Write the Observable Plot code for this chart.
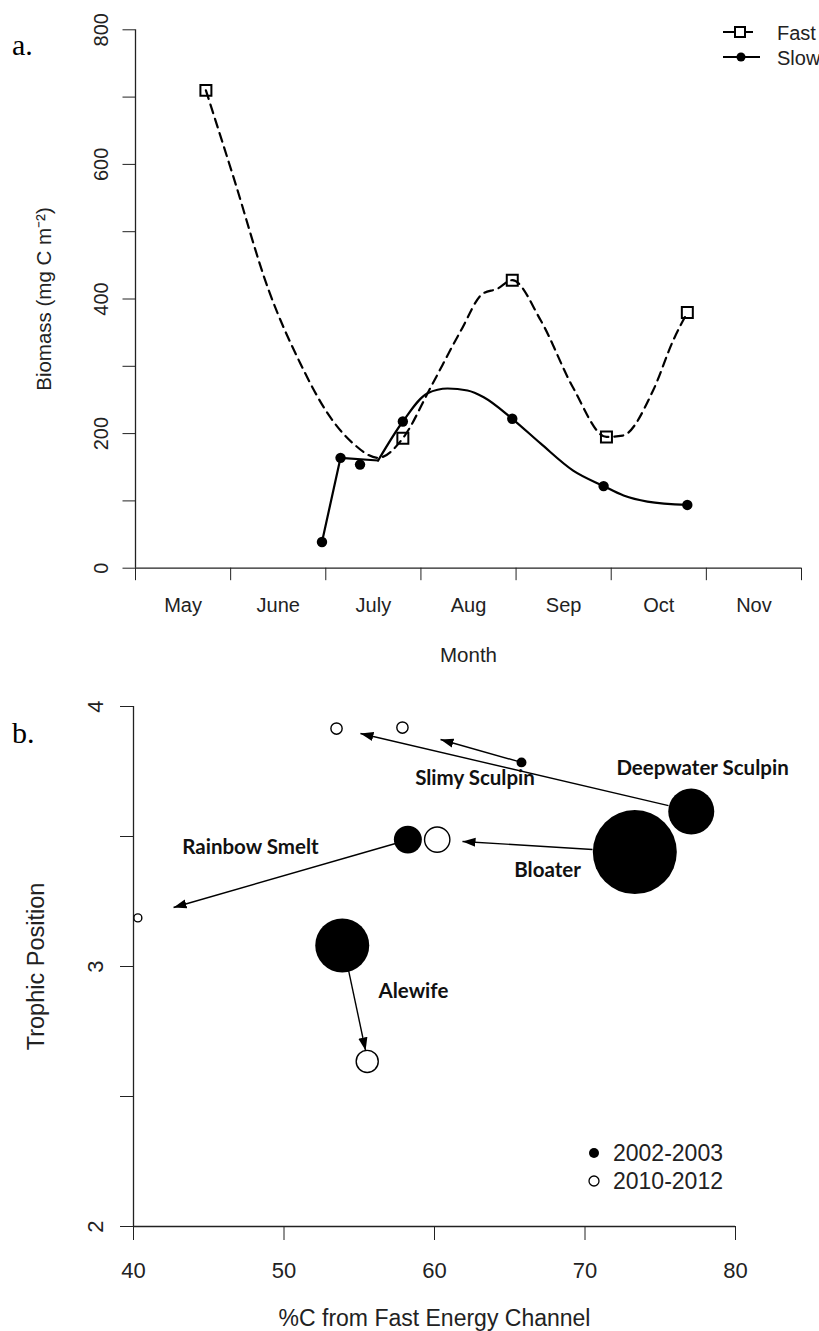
<!DOCTYPE html>
<html>
<head>
<meta charset="utf-8">
<script src="https://cdn.jsdelivr.net/npm/d3@7"></script>
<script src="https://cdn.jsdelivr.net/npm/@observablehq/plot@0.6"></script>
<style>
  body { margin: 0; background: #fff; }
  #wrap { position: relative; width: 819px; height: 1331px; overflow: hidden; font-family: "Liberation Sans", Arial, sans-serif; color: #222; }
  .panel { position: absolute; left: 0; }
  .tag { position: absolute; font-family: "Liberation Serif", "Times New Roman", serif; font-size: 30px; color: #000; line-height: 1; }
  .legend { position: absolute; }
</style>
</head>
<body>
<div id="wrap">
  <div class="tag" style="left:12px;top:30px">a.</div>
  <div class="tag" style="left:12px;top:718px">b.</div>
  <div id="pa" class="panel" style="top:0px"></div>
  <div id="pb" class="panel" style="top:680px"></div>
</div>
<script>
// ---------- Panel a data ----------
const monthEdges = [0, 1, 2, 3, 4, 5, 6, 7];
const monthMid = [0.5, 1.5, 2.5, 3.5, 4.5, 5.5, 6.5];
const monthNames = ["May", "June", "July", "Aug", "Sep", "Oct", "Nov"];
const biomassLabelTicks = [0, 200, 400, 600, 800];
const biomassMinorTicks = [100, 300, 500, 700];
const seriesNames = ["Fast", "Slow"];

// sampled points
const fastMonth = [0.74, 2.81, 3.96, 4.95, 5.80];
const fastBiomass = [710, 193, 428, 195, 380];
const slowMonth = [1.96, 2.155, 2.36, 2.81, 3.96, 4.92, 5.80];
const slowBiomass = [39, 164, 154, 218, 222, 122, 94];

// fitted curves as drawn in the figure
const fastCurveMonth = [0.74, 1.03, 1.40, 1.73, 2.02, 2.29, 2.55, 2.81, 3.10, 3.42, 3.65, 3.80, 3.96, 4.26, 4.60, 4.95, 5.12, 5.44, 5.65, 5.80];
const fastCurveBiomass = [710, 581, 413, 305, 230, 185, 164, 193, 268, 353, 408, 415, 428, 368, 268, 195, 197, 264, 338, 380];
const slowCurveMonth = [1.96, 2.155, 2.55, 2.81, 3.07, 3.28, 3.49, 3.66, 3.96, 4.26, 4.60, 4.92, 5.13, 5.38, 5.80];
const slowCurveBiomass = [39, 164, 160, 218, 260, 267, 264, 254, 222, 185, 145, 122, 108, 99, 94];

// ---------- Panel b data ----------
const species = ["Deepwater Sculpin", "Slimy Sculpin", "Bloater", "Rainbow Smelt", "Alewife"];
const pctFast2002 = [77.06, 65.78, 73.31, 58.23, 53.87];
const trophic2002 = [3.596, 3.785, 3.44, 3.488, 3.081];
const size2002 = [30, 1.4, 100, 11.1, 41.3];
const pctFast2010 = [53.49, 57.87, 60.18, 40.29, 55.53];
const trophic2010 = [3.915, 3.919, 3.488, 3.187, 2.635];
const size2010 = [1.8, 1.8, 9.1, 0.9, 6.9];
const arrowFromX = [75.55, 65.78, 70.5, 57.41, 54.29];
const arrowFromY = [3.619, 3.785, 3.45, 3.473, 2.985];
const arrowToX = [55.08, 60.40, 61.86, 42.66, 55.42];
const arrowToY = [3.896, 3.873, 3.481, 3.227, 2.677];
const labelX = [77.81, 62.69, 67.51, 47.77, 58.6];
const labelY = [3.762, 3.723, 3.369, 3.458, 2.904];
const periods = ["2002-2003", "2010-2012"];
const pctTicks = [40, 50, 60, 70, 80];
const trophicTicks = [2, 2.5, 3, 3.5, 4];

// ---------- Panel a ----------
const fastPts = fastMonth.map((m, i) => ({m, v: fastBiomass[i]}));
const slowPts = slowMonth.map((m, i) => ({m, v: slowBiomass[i]}));
const fastCurve = fastCurveMonth.map((m, i) => ({m, v: fastCurveBiomass[i]}));
const slowCurve = slowCurveMonth.map((m, i) => ({m, v: slowCurveBiomass[i]}));

const fontA = "Liberation Sans, Arial, sans-serif";
const plotA = Plot.plot({
  width: 819, height: 680,
  marginLeft: 135, marginRight: 18, marginTop: 29.3, marginBottom: 112.3,
  x: {domain: [0, 7]},
  y: {domain: [0, 800]},
  style: {fontFamily: fontA, color: "#222", background: "transparent", fontSize: "20px"},
  marks: [
    Plot.ruleX([0], {stroke: "#222", strokeWidth: 1.3}),
    Plot.ruleY([0], {stroke: "#222", strokeWidth: 1.3}),
    Plot.axisY(biomassMinorTicks, {tickSize: 12.5, tickFormat: () => "", label: null, stroke: "#222"}),
    Plot.axisY(biomassLabelTicks, {tickSize: 12.5, tickRotate: -90, tickPadding: 15, fontSize: 20, label: null}),
    Plot.axisY([], {label: "Biomass (mg C m\u207B\u00B2)", labelAnchor: "center", labelOffset: 99, labelArrow: "none", fontSize: 20.5}),
    Plot.axisX(monthEdges, {tickSize: 12.5, tickFormat: () => "", label: null}),
    Plot.axisX(monthMid, {tickSize: 0, tickPadding: 30, fontSize: 20,
      tickFormat: d => monthNames[monthMid.indexOf(d)], label: null}),
    Plot.axisX([], {label: "Month", labelAnchor: "center", labelOffset: 94, labelArrow: "none", fontSize: 20.5}),
    Plot.line(fastCurve, {x: "m", y: "v", curve: "monotone-x", stroke: "#000", strokeWidth: 2.2, strokeDasharray: "9,6"}),
    Plot.line(slowCurve.slice(0, 3), {x: "m", y: "v", curve: "linear", stroke: "#000", strokeWidth: 2.2}),
    Plot.line(slowCurve.slice(2), {x: "m", y: "v", curve: "monotone-x", stroke: "#000", strokeWidth: 2.2}),
    Plot.dot(fastPts, {x: "m", y: "v", symbol: "square", r: 6.2, fill: "none", stroke: "#000", strokeWidth: 2}),
    Plot.dot(slowPts, {x: "m", y: "v", r: 5.2, fill: "#000", stroke: "none"})
  ]
});
document.getElementById("pa").appendChild(plotA);

// Legend a
const legA = d3.select("#wrap").append("svg").attr("class", "legend")
  .style("left", "715px").style("top", "14px").attr("width", 104).attr("height", 56);
legA.append("line").attr("x1", 8).attr("x2", 38).attr("y1", 18).attr("y2", 18).attr("stroke", "#000").attr("stroke-width", 2);
legA.append("rect").attr("x", 20).attr("y", 13).attr("width", 10).attr("height", 10).attr("fill", "#fff").attr("stroke", "#000").attr("stroke-width", 2);
legA.append("line").attr("x1", 8).attr("x2", 45).attr("y1", 43).attr("y2", 43).attr("stroke", "#000").attr("stroke-width", 2);
legA.append("circle").attr("cx", 26).attr("cy", 43).attr("r", 4.5).attr("fill", "#000");
legA.selectAll("text.s").data(seriesNames).join("text")
  .attr("x", 62).attr("y", (d, i) => 25.5 + i * 25).attr("font-size", 20).attr("font-family", fontA).attr("fill", "#222").text(d => d);

// ---------- Panel b ----------
const d2002 = species.map((s, i) => ({s, x: pctFast2002[i], y: trophic2002[i], size: size2002[i]}));
const d2010 = species.map((s, i) => ({s, x: pctFast2010[i], y: trophic2010[i], size: size2010[i]}));
const arrows = species.map((s, i) => ({s, x1: arrowFromX[i], y1: arrowFromY[i], x2: arrowToX[i], y2: arrowToY[i]}));
const labels = species.map((s, i) => ({s, x: labelX[i], y: labelY[i]}));

// filled triangular arrow head marker
function filledHead(color, context) {
  const ns = "http://www.w3.org/2000/svg";
  const doc = (context && context.document) || document;
  const m = doc.createElementNS(ns, "marker");
  m.setAttribute("viewBox", "-13 -5 13 10");
  m.setAttribute("markerWidth", 13);
  m.setAttribute("markerHeight", 10);
  m.setAttribute("markerUnits", "userSpaceOnUse");
  m.setAttribute("orient", "auto");
  m.setAttribute("refX", 0);
  m.setAttribute("refY", 0);
  const p = doc.createElementNS(ns, "path");
  p.setAttribute("d", "M0,0L-13,-4.6L-13,4.6Z");
  p.setAttribute("fill", color);
  p.setAttribute("stroke", "none");
  m.appendChild(p);
  return m;
}

const plotB = Plot.plot({
  width: 819, height: 651,
  marginLeft: 133, marginRight: 84, marginTop: 26, marginBottom: 105,
  x: {domain: [40, 80]},
  y: {domain: [2, 4]},
  r: {type: "sqrt", domain: [0, 100], range: [0, 42]},
  style: {fontFamily: fontA, color: "#222", background: "transparent", fontSize: "22px"},
  marks: [
    Plot.ruleX([40], {stroke: "#222", strokeWidth: 1.3}),
    Plot.ruleY([2], {stroke: "#222", strokeWidth: 1.3}),
    Plot.axisY(trophicTicks, {tickSize: 13, tickRotate: -90, tickPadding: 18, fontSize: 22,
      tickFormat: d => Number.isInteger(d) ? String(d) : "", label: null}),
    Plot.axisY([], {label: "Trophic Position", labelAnchor: "center", labelOffset: 106, labelArrow: "none", fontSize: 23.5}),
    Plot.axisX(pctTicks, {tickSize: 14, tickPadding: 22, fontSize: 22, label: null}),
    Plot.axisX([], {label: "%C from Fast Energy Channel", labelAnchor: "center", labelOffset: 99, labelArrow: "none", fontSize: 23}),
    Plot.link(arrows, {x1: "x1", y1: "y1", x2: "x2", y2: "y2", stroke: "#000", strokeWidth: 1.4, markerEnd: filledHead}),
    Plot.dot(d2002, {x: "x", y: "y", r: "size", fill: "#000", stroke: "none"}),
    Plot.dot(d2010, {x: "x", y: "y", r: "size", fill: "#fff", stroke: "#000", strokeWidth: 1.4}),
    Plot.text(labels, {x: "x", y: "y", text: "s", fontFamily: "Lato, 'Open Sans', sans-serif", fontWeight: "bold", fontSize: 20.5, fill: "#111"})
  ]
});
document.getElementById("pb").appendChild(plotB);

// Legend b
const legB = d3.select("#wrap").append("svg").attr("class", "legend")
  .style("left", "580px").style("top", "1136px").attr("width", 180).attr("height", 62);
legB.append("circle").attr("cx", 14).attr("cy", 17).attr("r", 5).attr("fill", "#000");
legB.append("circle").attr("cx", 14).attr("cy", 45).attr("r", 5).attr("fill", "#fff").attr("stroke", "#000").attr("stroke-width", 1.3);
legB.selectAll("text.p").data(periods).join("text")
  .attr("x", 33).attr("y", (d, i) => 25 + i * 28).attr("font-size", 23).attr("font-family", fontA).attr("fill", "#222").text(d => d);
</script>
</body>
</html>
